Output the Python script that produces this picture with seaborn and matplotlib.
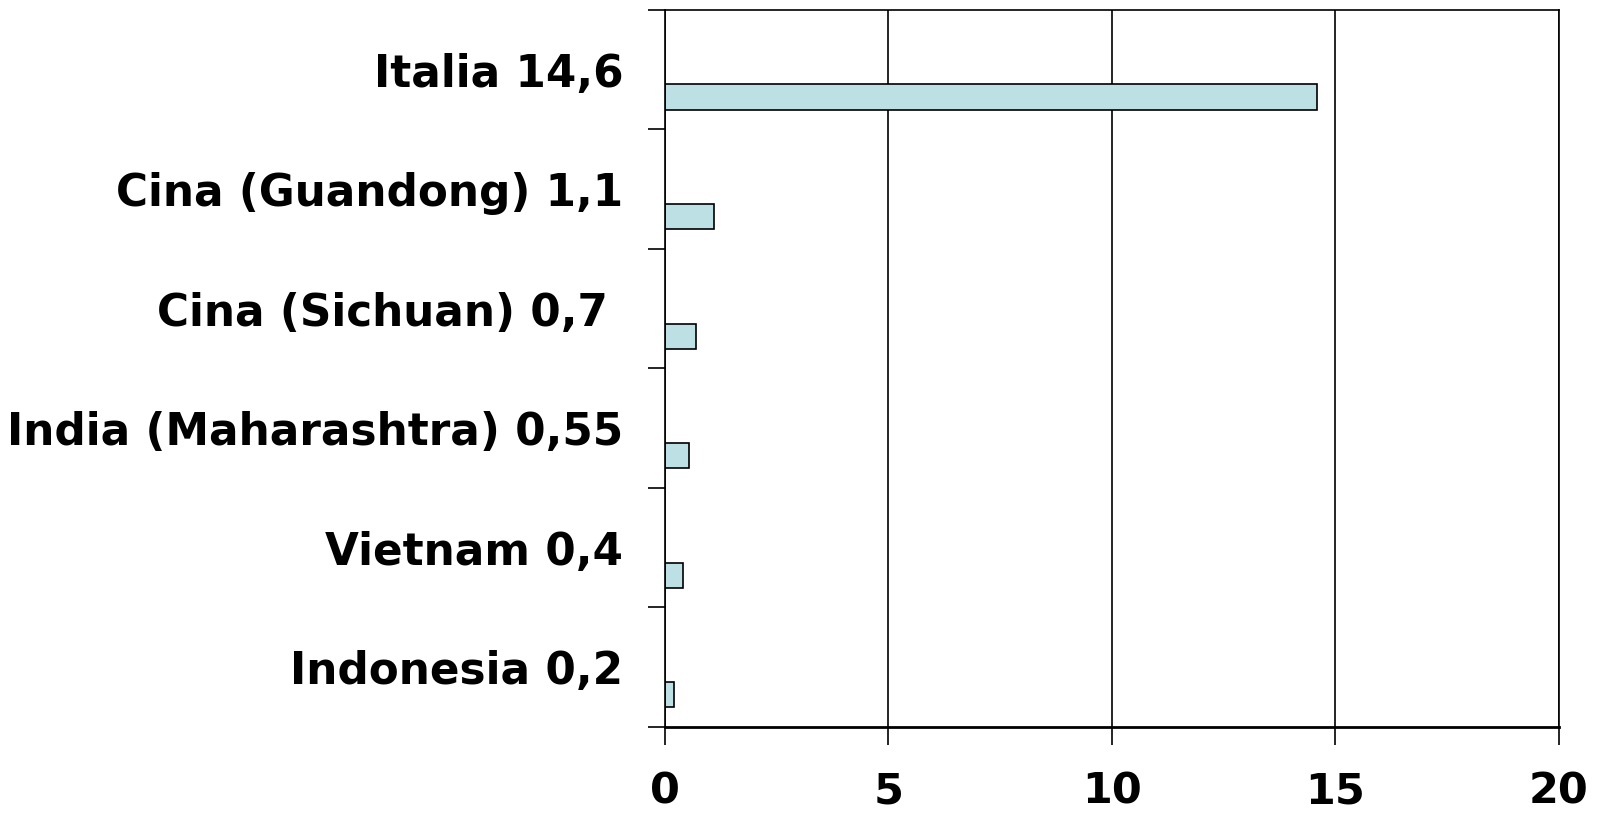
import numpy as np
import pandas as pd
import seaborn as sns
import matplotlib.pyplot as plt

# dati
paesi = ["Italia 14,6", "Cina (Guandong) 1,1", "Cina (Sichuan) 0,7 ",
         "India (Maharashtra) 0,55", "Vietnam 0,4", "Indonesia 0,2"]
valori = [14.6, 1.1, 0.7, 0.55, 0.4, 0.2]
x_ticks = [0, 5, 10, 15, 20]

# serie vuota per spostare la barra in basso (come in Excel)
df = pd.DataFrame({
    "paese": paesi * 2,
    "valore": [np.nan] * len(paesi) + valori,
    "serie": ["vuoto"] * len(paesi) + ["valore"] * len(paesi),
})

sns.set_style("white")
plt.rcParams['font.family'] = ['DejaVu Sans']
plt.rcParams['text.color'] = 'black'
plt.rcParams['xtick.color'] = 'black'
plt.rcParams['ytick.color'] = 'black'

fig = plt.figure(figsize=(16.02, 8.21), dpi=100)
ax = fig.add_axes([0.415, 0.1145, 0.558, 0.8735])

sns.barplot(data=df, x="valore", y="paese", hue="serie", hue_order=["vuoto", "valore"],
            order=paesi, orient="h", width=0.92, gap=0.54, dodge=True,
            palette={"vuoto": "#BCE0E3", "valore": "#BCE0E3"}, saturation=1,
            edgecolor="black", linewidth=1.2, legend=False, ax=ax)

ax.set_xlim(0, 20)
ax.set_ylim(len(paesi) - 0.5, -0.5)
ax.set_xticks(x_ticks)
ax.set_xticklabels([str(t) for t in x_ticks], fontsize=31, fontweight="bold")
ax.tick_params(axis="x", bottom=True, length=13, width=1.2, color="black",
               labelcolor="black", pad=18, direction="out")

# tacche ai confini delle categorie, etichette al centro
ax.set_yticks(np.arange(len(paesi) + 1) - 0.5)
ax.set_yticklabels([])
ax.set_yticks(np.arange(len(paesi)), minor=True)
ax.set_yticklabels(paesi, minor=True, fontsize=31.5, fontweight="bold")
ax.tick_params(axis="y", which="major", left=True, length=12, width=1.2,
               color="black", direction="out")
ax.tick_params(axis="y", which="minor", left=True, length=0, pad=30, labelcolor="black")

ax.grid(axis="x", color="black", linewidth=1.2)
ax.set_axisbelow(True)
for s in ax.spines.values():
    s.set_visible(True)
    s.set_color("black")
    s.set_linewidth(1.2)
ax.spines["bottom"].set_linewidth(2.0)
ax.set_xlabel("")
ax.set_ylabel("")

fig.savefig("out.png", dpi=100)
